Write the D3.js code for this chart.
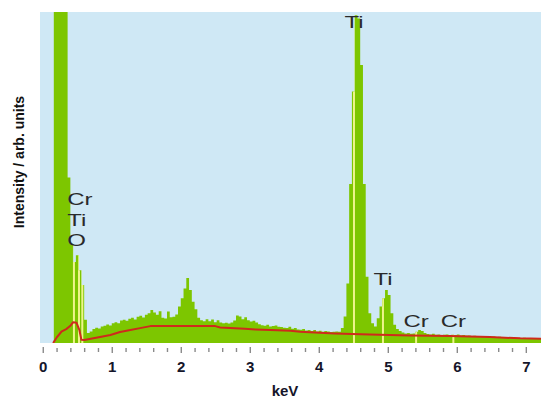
<!DOCTYPE html>
<html>
<head>
<meta charset="utf-8">
<script src="https://cdn.jsdelivr.net/npm/d3@7/dist/d3.min.js"></script>
<style>
  html, body { margin: 0; padding: 0; background: #ffffff; }
  svg { display: block; }
</style>
</head>
<body>
<svg id="chart" width="541" height="401"></svg>
<script>
// EDS spectrum: counts per 0.04 keV channel, starting at 0 keV
const channelWidth = 0.04;
const counts = [
  0, 0, 0, 0, 160, 160, 160, 160, 160, 50,
  30, 24.5, 26.5, 22, 17.5, 7, 3, 3.5, 4.2, 4.6,
  4.4, 5.0, 5.2, 5.6, 5.3, 6.0, 6.3, 6.0, 6.8, 7.0,
  6.7, 7.3, 7.6, 7.1, 7.9, 8.2, 7.7, 8.5, 9.0, 10.0,
  9.2, 8.5, 9.6, 7.6, 7.4, 9.5, 7.8, 7.9, 8.6, 11.0,
  13.5, 16.5, 19.6, 16.0, 12.5, 10.2, 7.6, 6.9, 6.6, 7.2,
  6.6, 7.1, 6.3, 6.9, 6.2, 6.0, 6.1, 5.9, 6.2, 6.8,
  8.3, 8.0, 7.2, 7.8, 6.9, 6.5, 6.7, 6.2, 5.7, 5.4,
  5.2, 5.5, 5.0, 5.1, 5.3, 4.9, 4.8, 4.6, 4.5, 4.9,
  4.3, 4.5, 4.1, 4.0, 4.2, 3.8, 3.9, 3.6, 3.9, 3.5,
  3.7, 3.4, 3.6, 3.5, 3.3, 3.4, 3.5, 3.4, 4.5, 8,
  18, 48, 76, 99, 98, 84, 48, 20, 9, 6,
  5.0, 7.5, 11, 13.5, 16, 14.5, 9, 5.5, 4.2, 3.6,
  3.2, 2.9, 3.0, 2.8, 2.9, 3.4, 3.9, 3.6, 3.0, 2.7,
  2.6, 2.8, 2.5, 2.6, 2.4, 2.5, 2.6, 2.3, 2.5, 2.4,
  2.6, 2.3, 2.4, 2.2, 2.3, 2.1, 2.2, 2.0, 2.1, 1.9,
  2.0, 2.1, 1.9, 2.0, 1.8, 1.9, 1.7, 1.8, 1.6, 1.7,
  1.5, 1.6, 1.5, 1.4, 1.6, 1.4, 1.5, 1.3, 1.4, 1.3, 1.4
];

// Fitted background (bremsstrahlung) level
const bgKeV   = [0.15, 0.20, 0.27, 0.34, 0.40, 0.44, 0.49, 0.53, 0.56, 0.60,
                 0.83, 0.98, 1.12, 1.27, 1.41, 1.56, 2.50, 2.57, 2.93, 3.08,
                 3.30, 3.59, 3.73, 4.23, 4.74, 5.32, 5.90, 6.48, 6.92, 7.22];
const bgLevel = [0, 1.6, 3.4, 4.2, 5.2, 6.3, 6.1, 4.0, 1.0, 0.9,
                 1.8, 2.4, 3.3, 3.9, 4.5, 5.1, 5.1, 4.7, 4.3, 4.1,
                 3.9, 3.7, 3.4, 2.9, 2.6, 2.3, 2.1, 1.8, 1.4, 1.3];

// Characteristic line energies (keV)
const lineNames  = ["Ti Lα", "O Kα", "Cr Lα", "Ti Kα", "Ti Kβ", "Cr Kα", "Cr Kβ"];
const lineKeV    = [0.452, 0.525, 0.573, 4.51, 4.93, 5.41, 5.95];

// Tick labels along the energy axis
const tickKeV    = [0, 1, 2, 3, 4, 5, 6, 7];

const svg = d3.select("#chart");
const plot = { left: 40, right: 541, top: 12, bottom: 343 };

const x = d3.scaleLinear().domain([-0.04, 7.22]).range([plot.left, plot.right]);
const y = d3.scaleLinear().domain([0, 100]).range([plot.bottom, plot.top]);

const defs = svg.append("defs");
defs.append("clipPath").attr("id", "plotClip")
  .append("rect")
  .attr("x", plot.left).attr("y", plot.top)
  .attr("width", plot.right - plot.left).attr("height", plot.bottom - plot.top);

// plot background
svg.append("rect")
  .attr("x", plot.left).attr("y", plot.top)
  .attr("width", plot.right - plot.left).attr("height", plot.bottom - plot.top)
  .attr("fill", "#cfe8f5");

// step points for the histogram
const steps = counts.map((c, i) => ({ e: i * channelWidth, c }));
steps.push({ e: counts.length * channelWidth, c: counts[counts.length - 1] });

const area = d3.area()
  .curve(d3.curveStepAfter)
  .x(d => x(d.e))
  .y0(y(0))
  .y1(d => y(d.c));

defs.append("clipPath").attr("id", "specClip")
  .append("path").attr("d", area(steps));

const g = svg.append("g").attr("clip-path", "url(#plotClip)");

g.append("path")
  .attr("d", area(steps))
  .attr("fill", "#7dc600");

// element line markers, visible inside the spectrum
g.append("g").attr("clip-path", "url(#specClip)")
  .selectAll("line")
  .data(lineKeV)
  .join("line")
  .attr("x1", d => x(d)).attr("x2", d => x(d))
  .attr("y1", y(0)).attr("y2", plot.top)
  .attr("stroke", "#eef48a")
  .attr("stroke-width", 2);

// background fit
g.append("path")
  .datum(bgKeV.map((e, i) => [e, bgLevel[i]]))
  .attr("d", d3.line().x(d => x(d[0])).y(d => y(d[1])))
  .attr("fill", "none")
  .attr("stroke", "#cf2a1c")
  .attr("stroke-width", 2)
  .attr("stroke-linejoin", "round");

// energy axis: minor ticks every 0.2 keV, labels at whole keV
const tickVals = d3.range(0, 36).map(i => +(i * 0.2).toFixed(1));
const axis = d3.axisBottom(x)
  .tickValues(tickVals)
  .tickSize(0)
  .tickFormat(d => tickKeV.includes(d) ? String(d) : "");

const ax = svg.append("g")
  .attr("transform", `translate(0,${plot.bottom})`)
  .call(axis);
ax.select(".domain").remove();
ax.selectAll(".tick line")
  .attr("y1", d => tickKeV.includes(d) ? 4 : 5)
  .attr("y2", d => tickKeV.includes(d) ? 10 : 9)
  .attr("stroke", "#8a8a8a")
  .attr("stroke-width", 1.4);
ax.selectAll(".tick text")
  .attr("y", 29)
  .attr("dy", 0)
  .attr("fill", "#15152a")
  .style("font-family", "'Liberation Sans', Arial, sans-serif")
  .style("font-weight", "bold")
  .style("font-size", "15px");

svg.append("text")
  .attr("x", 285).attr("y", 396)
  .attr("text-anchor", "middle")
  .attr("fill", "#15152a")
  .style("font-family", "'Liberation Sans', Arial, sans-serif")
  .style("font-weight", "bold")
  .style("font-size", "15px")
  .text("keV");

svg.append("text")
  .attr("transform", "translate(24,162) rotate(-90)")
  .attr("text-anchor", "middle")
  .attr("fill", "#111")
  .style("font-family", "'Liberation Sans', Arial, sans-serif")
  .style("font-weight", "bold")
  .style("font-size", "14px")
  .text("Intensity / arb. units");

// peak annotations
const labelStyle = sel => sel
  .attr("fill", "#2a2a2a")
  .style("font-family", "'Liberation Sans', Arial, sans-serif")
  .style("font-size", "16px");

const peakLabels = [
  { text: "Ti", e: lineKeV[3], yb: 28 },
  { text: "Ti", e: lineKeV[4], yb: 285 },
  { text: "Cr", e: lineKeV[5], yb: 327 },
  { text: "Cr", e: lineKeV[6], yb: 327 }
];
svg.append("g").selectAll("text")
  .data(peakLabels)
  .join("text")
  .attr("transform", d => `translate(${x(d.e)},${d.yb}) scale(1.5,1)`)
  .attr("text-anchor", "middle")
  .call(labelStyle)
  .text(d => d.text);

const lowLabels = [
  { text: "Cr", yb: 205 },
  { text: "Ti", yb: 226 },
  { text: "O", yb: 246 }
];
svg.append("g").selectAll("text")
  .data(lowLabels)
  .join("text")
  .attr("transform", d => `translate(${x(0.355)},${d.yb}) scale(1.5,1)`)
  .attr("text-anchor", "start")
  .call(labelStyle)
  .text(d => d.text);
</script>
</body>
</html>
